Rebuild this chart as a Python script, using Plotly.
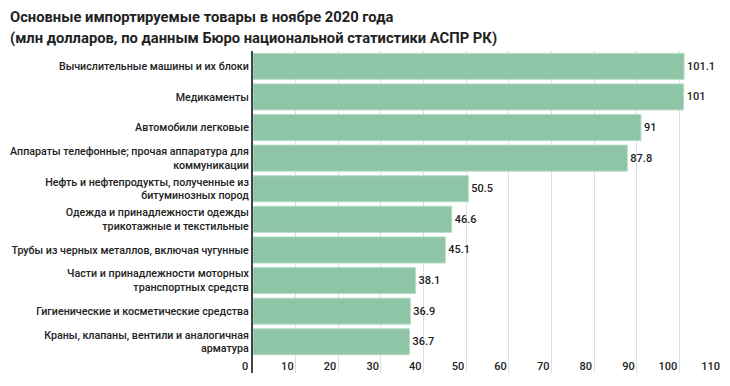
import plotly.graph_objects as go

categories = [
    "Вычислительные машины и их блоки",
    "Медикаменты",
    "Автомобили легковые",
    "Аппараты телефонные; прочая аппаратура для<br>коммуникации",
    "Нефть и нефтепродукты, полученные из<br>битуминозных пород",
    "Одежда и принадлежности одежды<br>трикотажные и текстильные",
    "Трубы из черных металлов, включая чугунные",
    "Части и принадлежности моторных<br>транспортных средств",
    "Гигиенические и косметические средства",
    "Краны, клапаны, вентили и аналогичная<br>арматура",
]
values = [101.1, 101, 91, 87.8, 50.5, 46.6, 45.1, 38.1, 36.9, 36.7]
value_labels = ["101.1", "101", "91", "87.8", "50.5", "46.6", "45.1", "38.1", "36.9", "36.7"]
x_ticks = [0, 10, 20, 30, 40, 50, 60, 70, 80, 90, 100, 110]
title_lines = [
    "Основные импортируемые товары в ноябре 2020 года",
    "(млн долларов, по данным Бюро национальной статистики АСПР РК)",
]

FONT = "Roboto"
TXT = "#222"

fig = go.Figure(go.Bar(
    x=values,
    y=list(range(len(categories))),
    orientation="h",
    marker=dict(color="#8DC5A6", line=dict(color="#B5DCC6", width=1)),
    text=value_labels,
    textposition="outside",
    textfont=dict(family=FONT, size=11, color=TXT, weight=500),
    cliponaxis=False,
    width=0.85,
))

annotations = []
for i, line in enumerate(title_lines):
    annotations.append(dict(
        text=f"<b>{line}</b>", xref="paper", yref="paper",
        x=0, y=1, xanchor="left", yanchor="middle",
        xshift=8 - 253, yshift=34 - 21 * i, showarrow=False,
        font=dict(family=FONT, size=14.75, color=TXT),
    ))
# the zero tick label sits just left of the axis line
annotations.append(dict(
    text=str(x_ticks[0]), xref="x", yref="paper", x=x_ticks[0], y=0,
    xanchor="right", yanchor="middle", xshift=-3, yshift=7, showarrow=False,
    font=dict(family=FONT, size=11, color=TXT, weight=500),
))

fig.update_layout(
    width=730, height=386,
    margin=dict(l=253, r=8, t=51, b=13, autoexpand=False),
    paper_bgcolor="white", plot_bgcolor="white",
    showlegend=False,
    font=dict(family=FONT, size=11, color=TXT),
    annotations=annotations,
    xaxis=dict(
        range=[0, 110], tickvals=x_ticks, ticktext=[str(t) for t in x_ticks],
        showgrid=True, gridcolor="#DDDDDD", gridwidth=1,
        zeroline=False, showline=False, automargin=False,
        ticklabelposition="inside left",
        ticklabelstandoff=-5, ticklabelshift=-2,
        tickfont=dict(family=FONT, size=11, color=TXT, weight=500),
        fixedrange=True,
    ),
    yaxis=dict(
        range=[10.02, -0.5],
        tickvals=list(range(len(categories))), ticktext=categories,
        showgrid=False, zeroline=False, automargin=False,
        showline=True, linecolor="#444", linewidth=2,
        ticks="", tickfont=dict(family=FONT, size=10.7, color=TXT, weight=500),
        fixedrange=True,
    ),
)

fig.write_html(
    "out.html",
    config={"displayModeBar": False},
    post_script="document.body.style.margin='0';document.body.style.padding='0';",
)
